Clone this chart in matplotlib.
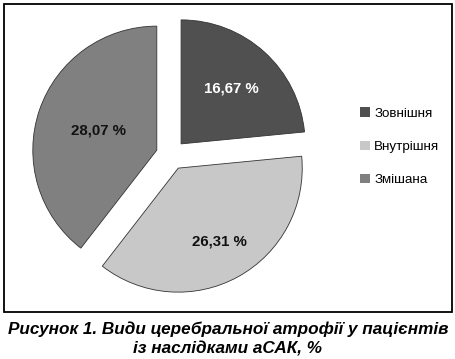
import numpy as np
import matplotlib
matplotlib.use("Agg")
import matplotlib.pyplot as plt
from matplotlib.patches import Rectangle

# data
categories = ["Зовнішня", "Внутрішня", "Змішана"]
values = [16.67, 26.31, 28.07]
label_texts = ["16,67 %", "26,31 %", "28,07 %"]
colors = ["#505050", "#c8c8c8", "#808080"]
text_colors = ["white", "#111111", "#111111"]
label_dist = [0.60, 0.68, 0.50]   # radial position of value labels (fraction of radius)
caption = "Рисунок 1. Види церебральної атрофії у пацієнтів\nіз наслідками аСАК, %"

plt.rcParams["font.family"] = ["Liberation Sans", "DejaVu Sans"]

W, H = 456, 359
fig = plt.figure(figsize=(W / 100, H / 100), dpi=100)
ax = fig.add_axes([0, 0, 1, 1])

radius = 124
center = (171, H - 155)
wedges, _ = ax.pie(values, colors=colors, startangle=90, counterclock=False,
                   radius=radius, center=center, explode=[15, 15, 15],
                   wedgeprops=dict(edgecolor="#333333", linewidth=0.6))

for w, txt, tc, d in zip(wedges, label_texts, text_colors, label_dist):
    ang = np.deg2rad((w.theta1 + w.theta2) / 2)
    cx, cy = w.center
    ax.text(cx + d * radius * np.cos(ang), cy + d * radius * np.sin(ang), txt,
            ha="center", va="center", fontsize=10.8, fontweight="bold", color=tc)

ax.set_xlim(0, W)
ax.set_ylim(0, H)
ax.set_aspect("equal")
ax.axis("off")

# frame around the chart
ax.add_patch(Rectangle((4, H - 312), 448, 308, fill=False, edgecolor="black", linewidth=1.3))

leg = ax.legend(wedges, categories, loc="upper left", bbox_to_anchor=(355 / W, 1 - 102 / H),
                frameon=False, fontsize=9.6, handlelength=0.75, handleheight=0.75,
                handletextpad=0.3, labelspacing=1.55, borderaxespad=0)
for h in leg.legend_handles:
    h.set_edgecolor("none")

fig.text(228 / W, 1 - 339 / H, caption, ha="center", va="center", fontsize=12.3,
         fontweight="bold", fontstyle="italic", linespacing=1.3)

fig.savefig("out.png", dpi=100)
